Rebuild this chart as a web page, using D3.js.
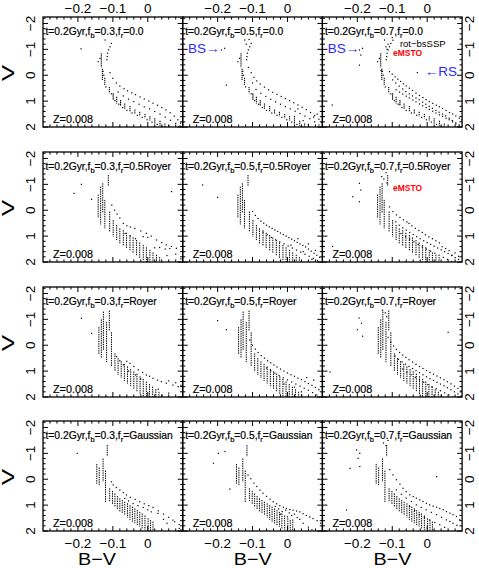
<!DOCTYPE html>
<html><head><meta charset="utf-8">
<script src="https://cdn.jsdelivr.net/npm/d3@7"></script>
<style>body{margin:0;background:#fff}svg{display:block}</style>
</head><body><svg id="c" width="479" height="568"></svg>
<script>
// ---------------- data ----------------
const colFb = ["0.3","0.5","0.7"];
const rowFr = ["0.0","0.5Royer","Royer","Gaussian"];
const metal = "Z=0.008";
const xTickValues = [-0.2,-0.1,0];
const xTickLabels = ["\u22120.2","\u22120.1","0"];
const yTickValues = [-2,-1,0,1,2];
const yTickLabels = ["\u22122","\u22121","0","1","2"];

// vertical stacks of stars [B-V, V_top, V_bottom]
const stripesR0 = [[-0.133,-0.85,-0.3],[-0.13,-0.25,0.2],[-0.123,0.1,0.38],[-0.11,0.45,0.70],[-0.099,0.70,0.96],[-0.089,0.83,1.09],[-0.078,0.96,1.19],[-0.066,1.09,1.32],[-0.051,1.19,1.41],[-0.037,1.32,1.5],[-0.023,1.41,1.58],[-0.008,1.5,1.66],[0.006,1.58,1.76],[0.02,1.66,1.86],[0.035,1.76,1.95],[0.049,1.86,2.0]];
const stripesR1 = [[-0.142,-0.6,0.3],[-0.135,-0.91,0.55],[-0.129,-1.04,0.1],[-0.123,-0.4,0.7],[-0.113,-1.36,-0.95],[-0.109,0.05,0.83],[-0.099,0.38,1.02],[-0.089,0.57,1.15],[-0.08,0.7,1.28],[-0.07,0.77,1.38],[-0.061,0.87,1.47],[-0.051,0.96,1.56],[-0.042,1.05,1.67],[-0.032,1.15,1.77],[-0.023,1.25,1.87],[-0.013,1.34,1.97],[-0.004,1.43,2.0],[0.006,1.53,2.0],[0.015,1.63,2.0],[0.025,1.72,2.0],[0.034,1.81,2.0]];
const stripesR2 = [[-0.14,-0.7,0.35],[-0.133,-1.0,0.5],[-0.127,-1.3,0.2],[-0.118,-0.9,0.65],[-0.11,-1.34,-0.55],[-0.104,-0.5,0.8],[-0.094,0.31,1.02],[-0.085,0.5,1.15],[-0.076,0.62,1.27],[-0.067,0.72,1.38],[-0.058,0.82,1.48],[-0.049,0.92,1.58],[-0.04,1.01,1.68],[-0.031,1.1,1.78],[-0.022,1.2,1.88],[-0.013,1.3,1.98],[-0.004,1.4,2.0],[0.005,1.5,2.0],[0.014,1.6,2.0],[0.023,1.7,2.0],[0.032,1.8,2.0],[0.041,1.9,2.0]];
const stripesR3 = [[-0.146,-0.59,0.17],[-0.139,-0.45,0.25],[-0.128,-0.8,0.1],[-0.121,-0.33,0.9],[-0.116,-1.32,-0.87],[-0.109,0.35,0.87],[-0.101,0.45,0.97],[-0.094,0.55,1.06],[-0.087,0.65,1.16],[-0.08,0.74,1.26],[-0.073,0.8,1.32],[-0.066,0.87,1.38],[-0.058,0.93,1.48],[-0.051,1.0,1.57],[-0.044,1.06,1.64],[-0.037,1.125,1.7],[-0.03,1.19,1.77],[-0.023,1.26,1.83],[-0.016,1.32,1.9],[-0.008,1.4,1.96],[0.001,1.51,2.0],[0.008,1.58,2.0],[0.015,1.64,2.0]];

// single stars shared by the f_r=0.0 row
const msR0 = [[-0.122,-1.36],[-0.104,-1.23],[-0.108,-1.1],[-0.112,-0.98],[-0.115,-0.85],[-0.116,-0.72],[-0.117,-0.6],[-0.137,-0.65],[-0.142,-0.52],[-0.128,-0.15],[-0.126,0.0],[-0.12,0.45],[-0.104,0.72],[-0.094,0.98],[-0.083,1.12],[-0.072,1.25],[-0.06,1.36],[-0.045,1.46],[-0.03,1.55],[-0.016,1.63],[-0.002,1.72],[0.012,1.81],[0.027,1.9],[0.041,1.98]];

// binaries and other stars, one array per panel [B-V, V]
const p00 = [[-0.191,-1.02],[-0.108,-0.1],[-0.1,0.12],[-0.09,0.3],[-0.08,0.42],[-0.068,0.52],[-0.058,0.6],[-0.046,0.68],[-0.035,0.75],[-0.022,0.84],[-0.01,0.92],[0.003,1.0],[0.015,1.08],[0.028,1.16],[0.04,1.25],[0.052,1.34],[0.064,1.45],[0.076,1.58],[0.086,1.72],[0.094,1.85],[-0.085,0.65],[-0.07,0.8],[-0.055,0.92],[-0.04,1.02],[-0.025,1.12],[-0.01,1.22],[0.005,1.3],[0.02,1.4],[0.035,1.5],[0.05,1.62],[0.065,1.74],[0.08,1.86],[0.092,1.96],[0.06,1.95],[0.088,2.0]];
const p01 = [[-0.112,-0.3],[-0.104,-0.1],[-0.096,0.08],[-0.088,0.22],[-0.078,0.34],[-0.066,0.46],[-0.054,0.56],[-0.042,0.66],[-0.03,0.74],[-0.018,0.82],[-0.006,0.9],[0.006,0.98],[0.018,1.06],[0.03,1.15],[0.042,1.24],[0.054,1.33],[0.066,1.44],[0.078,1.56],[0.09,1.7],[0.098,1.82],[-0.09,0.55],[-0.076,0.7],[-0.062,0.82],[-0.048,0.93],[-0.034,1.03],[-0.02,1.12],[-0.006,1.21],[0.008,1.3],[0.022,1.39],[0.036,1.48],[0.05,1.58],[0.064,1.68],[0.078,1.8],[0.09,1.92],[-0.189,-0.975],[-0.18,-1.04],[-0.175,0.38],[-0.1,0.3],[0.02,1.6],[0.045,1.75],[0.06,1.9],[0.075,1.62],[0.085,1.5],[0.03,1.3],[-0.118,-1.2],[-0.11,-1.38]];
const p02 = [[-0.108,-0.14],[-0.1,-0.04],[-0.092,0.06],[-0.084,0.15],[-0.076,0.24],[-0.068,0.33],[-0.06,0.41],[-0.051,0.5],[-0.042,0.59],[-0.032,0.69],[-0.022,0.78],[-0.012,0.86],[-0.003,0.94],[0.006,1.02],[0.016,1.09],[0.026,1.16],[0.035,1.22],[0.044,1.28],[0.054,1.36],[0.064,1.44],[0.073,1.5],[0.082,1.57],[0.092,1.66],[0.099,1.72],
[-0.099,0.18],[-0.09,0.3],[-0.08,0.42],[-0.07,0.53],[-0.061,0.63],[-0.051,0.72],[-0.042,0.8],[-0.032,0.88],[-0.023,0.95],[-0.013,1.04],[-0.004,1.12],[0.006,1.2],[0.015,1.28],[0.025,1.36],[0.034,1.43],[0.044,1.5],[0.053,1.57],[0.063,1.66],[0.072,1.75],[0.082,1.84],[0.091,1.92],[0.099,2.0],
[-0.089,0.56],[-0.079,0.65],[-0.07,0.73],[-0.06,0.81],[-0.051,0.88],[-0.041,0.96],[-0.032,1.03],[-0.022,1.11],[-0.013,1.18],[-0.003,1.25],[0.006,1.32],[0.016,1.39],[0.025,1.46],[0.035,1.53],[0.044,1.59],[0.054,1.66],[0.063,1.72],[0.073,1.8],[0.082,1.88],[0.092,1.96],
[-0.194,-0.975],[-0.185,-1.04],[-0.19,-0.78],[-0.194,-0.39],[-0.132,-0.18],[-0.028,-0.1],[-0.272,1.15],[-0.118,-1.1],[-0.115,-1.0],[-0.112,-1.2],[-0.1,-1.45],[-0.098,-1.35]];
const p10 = [[-0.211,-0.65],[-0.19,-1.0],[-0.161,-0.42],[0.068,-0.72],[-0.103,-0.2],[-0.095,0.0],[-0.088,0.15],[-0.08,0.3],[-0.07,0.51],[-0.06,0.6],[-0.05,0.65],[-0.037,0.70],[-0.02,0.8],[-0.004,0.89],[0.01,1.0],[-0.013,1.02],[0.0,1.05],[0.025,1.15],[0.04,1.25],[0.053,1.34],[0.068,1.4],[0.082,1.47],[0.034,1.44],[0.05,1.5],[0.063,1.48],[0.055,1.75],[0.08,1.7],[0.095,1.88],[-0.065,0.9],[-0.05,1.0],[-0.035,1.1],[0.02,1.45],[0.1,1.5]];
const p11 = [[-0.243,-0.975],[-0.2,-0.5],[-0.1,0.05],[-0.092,0.2],[-0.084,0.32],[-0.076,0.42],[-0.068,0.5],[-0.06,0.58],[-0.052,0.64],[-0.044,0.7],[-0.036,0.76],[-0.028,0.82],[-0.02,0.88],[-0.012,0.94],[-0.004,1.0],[0.004,1.06],[0.012,1.12],[0.02,1.18],[0.028,1.24],[0.036,1.3],[0.044,1.36],[0.052,1.42],[0.06,1.5],[0.068,1.58],[0.076,1.66],[0.084,1.74],[0.092,1.82],
[-0.07,0.85],[-0.058,0.95],[-0.046,1.05],[-0.034,1.14],[-0.022,1.22],[-0.01,1.3],[0.002,1.38],[0.014,1.46],[0.026,1.54],[0.038,1.62],[0.05,1.7],[0.062,1.78],[0.074,1.86],[0.086,1.94],[0.03,1.1],[0.06,1.3],[0.08,1.55],[0.045,1.6],[0.01,1.35],[0.07,1.9]];
const p12 = [[-0.194,-1.04],[-0.19,-0.78],[-0.213,-0.52],[-0.194,-0.33],[-0.271,1.4],[-0.108,-0.13],[-0.098,0.05],[-0.088,0.18],[-0.078,0.28],[-0.068,0.37],[-0.058,0.45],[-0.052,0.51],[-0.044,0.6],[-0.034,0.7],[-0.024,0.78],[-0.014,0.86],[-0.005,0.95],[0.005,1.03],[0.015,1.1],[0.025,1.18],[0.035,1.26],[0.043,1.41],[0.053,1.48],[0.063,1.56],[0.071,1.74],[0.08,1.65],[0.09,1.78],
[-0.09,0.45],[-0.08,0.58],[-0.07,0.68],[-0.06,0.77],[-0.05,0.86],[-0.04,0.94],[-0.03,1.02],[-0.02,1.1],[-0.01,1.18],[0.0,1.25],[0.01,1.32],[0.02,1.39],[0.03,1.46],[0.04,1.53],[0.05,1.6],[0.06,1.67],[0.07,1.75],[0.08,1.83],[0.09,1.9],
[-0.075,0.9],[-0.062,1.02],[-0.05,1.12],[-0.038,1.22],[-0.026,1.32],[-0.014,1.42],[-0.002,1.5],[0.01,1.58],[0.022,1.66],[0.034,1.74],[0.046,1.82],[0.058,1.9],[0.07,1.98],[-0.13,-1.3],[-0.124,-1.2],[-0.118,-1.45],[-0.115,-1.05]];
const p20 = [[-0.19,-1.04],[-0.161,-0.46],[-0.089,0.44],[-0.08,0.6],[-0.07,0.76],[-0.06,0.62],[-0.051,0.70],[-0.04,0.82],[-0.027,0.95],[-0.015,1.05],[-0.004,1.15],[0.005,1.2],[0.015,1.28],[0.028,1.35],[0.039,1.41],[0.053,1.47],[0.06,1.38],[0.072,1.54],[0.08,1.45],[0.087,1.6],[0.095,1.55],[-0.055,1.0],[-0.035,1.15],[-0.02,1.3],[0.03,1.7],[0.06,1.85]];
const p21 = [[-0.2,-0.95],[-0.175,-0.6],[-0.108,-0.2],[-0.1,0.0],[-0.092,0.15],[-0.084,0.28],[-0.075,0.4],[-0.066,0.5],[-0.057,0.6],[-0.048,0.68],[-0.039,0.76],[-0.03,0.84],[-0.02,0.92],[-0.01,1.0],[0.0,1.07],[0.01,1.14],[0.02,1.2],[0.03,1.27],[0.04,1.33],[0.05,1.4],[0.06,1.48],[0.07,1.55],[0.08,1.63],[0.09,1.72],[-0.06,0.88],[-0.048,0.98],[-0.036,1.08],[-0.024,1.17],[-0.012,1.26],[0.0,1.34],[0.012,1.42],[0.024,1.5],[0.036,1.58],[0.048,1.66],[0.06,1.74],[0.072,1.83],[0.084,1.92],[0.02,1.62],[0.04,1.8],[-0.01,1.5],[0.055,1.25],[0.075,1.35]];
const p22 = [[-0.195,-1.05],[-0.188,-0.85],[-0.2,-0.6],[-0.185,-0.35],[-0.278,1.03],[-0.112,-0.3],[-0.104,-0.12],[-0.096,0.03],[-0.088,0.16],[-0.079,0.28],[-0.07,0.38],[-0.061,0.47],[-0.052,0.56],[-0.042,0.65],[-0.032,0.74],[-0.022,0.82],[-0.012,0.9],[-0.002,0.98],[0.008,1.05],[0.018,1.12],[0.028,1.19],[0.038,1.26],[0.048,1.33],[0.058,1.41],[0.068,1.49],[0.078,1.58],[0.088,1.67],[0.097,1.76],
[-0.092,0.42],[-0.082,0.54],[-0.072,0.64],[-0.062,0.73],[-0.052,0.82],[-0.042,0.9],[-0.032,0.98],[-0.022,1.06],[-0.012,1.14],[-0.002,1.22],[0.008,1.29],[0.018,1.36],[0.028,1.43],[0.038,1.5],[0.048,1.57],[0.058,1.64],[0.068,1.72],[0.078,1.8],[0.088,1.88],[0.097,1.96],
[-0.07,0.92],[-0.058,1.04],[-0.046,1.14],[-0.034,1.24],[-0.022,1.34],[-0.01,1.43],[0.002,1.52],[0.014,1.6],[0.026,1.68],[0.038,1.76],[0.05,1.84],[0.062,1.92],[0.074,2.0],[-0.128,-1.35],[-0.12,-1.25],[-0.116,-1.1],[0.06,-0.5]];
const p30 = [[-0.202,-1.0],[-0.104,0.1],[-0.099,0.22],[-0.09,0.32],[-0.08,0.42],[-0.07,0.52],[-0.061,0.61],[-0.05,0.7],[-0.036,0.78],[-0.023,0.87],[-0.01,0.95],[0.003,1.02],[0.015,1.09],[0.03,1.22],[0.045,1.35],[0.06,1.47],[0.072,1.58],[0.077,1.64],[0.09,1.75],[-0.066,0.74],[-0.055,0.84],[-0.042,0.94],[-0.028,1.02],[-0.013,1.09],[0.0,1.18],[0.01,1.26],[0.029,1.32],[0.045,1.55],[0.055,1.7],[0.09,1.9],[0.095,1.95]];
const p31 = [[-0.198,-1.0],[-0.179,-1.07],[-0.212,-0.62],[-0.165,0.38],[-0.113,-0.16],[-0.105,-0.02],[-0.096,0.15],[-0.088,0.28],[-0.079,0.42],[-0.07,0.54],[-0.06,0.66],[-0.05,0.77],[-0.041,0.87],[-0.031,0.95],[-0.022,1.02],[-0.012,1.08],[-0.003,1.13],[0.007,1.17],[0.016,1.2],[0.026,1.23],[0.035,1.26],[0.045,1.33],[0.054,1.4],[0.064,1.46],[0.073,1.52],[0.085,1.6],[0.095,1.7],
[-0.035,1.05],[-0.025,1.15],[-0.015,1.25],[-0.005,1.2],[0.005,1.3],[0.012,1.4],[0.02,1.35],[0.028,1.48],[0.035,1.55],[0.0,1.45],[-0.02,1.35],[0.015,1.58],[0.045,1.7],[0.06,1.85],[0.07,1.95]];
const p32 = [[-0.202,-1.13],[-0.193,-1.0],[-0.198,-0.81],[-0.193,-0.49],[-0.221,-0.42],[-0.231,1.19],[0.027,-0.1],
[-0.107,-0.37],[-0.098,-0.17],[-0.088,0.02],[-0.078,0.19],[-0.069,0.35],[-0.06,0.48],[-0.05,0.6],[-0.04,0.67],[-0.031,0.73],[-0.021,0.8],[-0.012,0.86],[-0.002,0.93],[0.007,0.99],[0.017,1.04],[0.027,1.08],[0.036,1.13],[0.046,1.18],[0.055,1.25],[0.065,1.31],[0.074,1.37],[0.084,1.44],[0.093,1.57],
[-0.088,0.41],[-0.074,0.58],[-0.06,0.73],[-0.045,0.86],[-0.031,0.99],[-0.017,1.09],[-0.003,1.18],[0.012,1.28],[0.027,1.37],[0.041,1.47],[0.055,1.57],[0.065,1.63],[0.074,1.7],[0.085,1.78],
[-0.05,1.05],[-0.036,1.21],[-0.022,1.37],[-0.008,1.47],[0.007,1.57],[0.022,1.67],[0.036,1.76],[0.05,1.86],[-0.125,-1.4],[-0.118,-1.3],[-0.112,-1.5]];

// annotations: [row, col, text, B-V anchor, V anchor, colour, size]
const notes = [
  [0,1,"BS\u2192",-0.285,-0.84,"#2a2aff",13.5],
  [0,2,"BS\u2192",-0.285,-0.84,"#2a2aff",13.5],
  [0,2,"\u2190RS",-0.007,0.03,"#2a2aff",13.5],
  [0,2,"rot\u2212bsSSP",-0.078,-1.09,"#000",9.5],
  [0,2,"eMSTO",-0.098,-0.74,"#ff0000",8.5],
  [1,2,"eMSTO",-0.098,-0.74,"#ff0000",8.5]
];

// ---------------- layout ----------------
const colLeft = [43,182.7,322.4], pw = 139.7;
const rowTop = [17,152,287,421], ph = 110;
const x = d3.scaleLinear().domain([-0.3,0.1]).range([0,pw]);
const y = d3.scaleLinear().domain([-2.25,2]).range([0,ph]);
const xMinor = d3.range(-0.28,0.1,0.02).filter(v=>Math.abs(Math.round(v*10)-v*10)>1e-6);
const yMinor = d3.range(-2.2,2.0001,0.2).filter(v=>Math.abs(Math.round(v)-v)>1e-6);
const font = "'Liberation Sans', Arial, Helvetica, sans-serif";

const svg = d3.select("#c");
svg.append("rect").attr("width",479).attr("height",568).attr("fill","#fff");

const panelDots = [[p00,p01,p02],[p10,p11,p12],[p20,p21,p22],[p30,p31,p32]];
const rowStripes = [stripesR0,stripesR1,stripesR2,stripesR3];
const rowMs = [msR0,[],[],[]];

rowTop.forEach((T,r)=>{
  colLeft.forEach((L,c)=>{
    const g = svg.append("g").attr("transform",`translate(${L},${T})`);
    const cid = `clip${r}${c}`;
    g.append("clipPath").attr("id",cid).append("rect").attr("width",pw).attr("height",ph);
    const pg = g.append("g").attr("clip-path",`url(#${cid})`);
    pg.selectAll("line.s").data(rowStripes[r]).join("line")
      .attr("x1",d=>x(d[0])).attr("x2",d=>x(d[0]))
      .attr("y1",d=>y(d[1])).attr("y2",d=>y(d[2]))
      .attr("stroke","#000").attr("stroke-width",r===0?1.1:1)
      .attr("stroke-dasharray",r===0?"1.3,0.7":"1.4,0.9");
    pg.selectAll("rect.m").data(rowMs[r].concat(panelDots[r][c])).join("rect")
      .attr("x",d=>x(d[0])-0.6).attr("y",d=>y(d[1])-0.6)
      .attr("width",1.2).attr("height",1.2).attr("fill","#000");
    // frame
    g.append("rect").attr("width",pw).attr("height",ph)
      .attr("fill","none").attr("stroke","#000").attr("stroke-width",1.3);
    // ticks (inward, all four sides)
    const tk = g.append("g").attr("stroke","#000").attr("stroke-width",1);
    const addX = (vals,len)=>{
      vals.forEach(v=>{
        tk.append("line").attr("x1",x(v)).attr("x2",x(v)).attr("y1",ph).attr("y2",ph-len);
        tk.append("line").attr("x1",x(v)).attr("x2",x(v)).attr("y1",0).attr("y2",len);
      });
    };
    const addY = (vals,len)=>{
      vals.forEach(v=>{
        tk.append("line").attr("y1",y(v)).attr("y2",y(v)).attr("x1",0).attr("x2",len);
        tk.append("line").attr("y1",y(v)).attr("y2",y(v)).attr("x1",pw).attr("x2",pw-len);
      });
    };
    addX(xTickValues,5); addX(xMinor,2.6);
    addY(yTickValues,5); addY(yMinor,2.6);
    // panel label with subscripts
    const t = g.append("text").attr("x",2.5).attr("y",18).attr("font-family",font)
      .attr("font-size",10.3).attr("fill","#000").attr("stroke","#000").attr("stroke-width",0.2);
    t.append("tspan").text("t=0.2Gyr,f");
    t.append("tspan").attr("dy",2.5).attr("font-size",7.5).text("b");
    t.append("tspan").attr("dy",-2.5).text(`=${colFb[c]},f`);
    t.append("tspan").attr("dy",2.5).attr("font-size",7.5).text("r");
    t.append("tspan").attr("dy",-2.5).text(`=${rowFr[r]}`);
    g.append("text").attr("x",10).attr("y",106).attr("font-family",font)
      .attr("font-size",10.8).attr("fill","#000").attr("stroke","#000").attr("stroke-width",0.2).text(metal);
  });
});

// notes
notes.forEach(([r,c,txt,bv,v,col,fs])=>{
  svg.append("text").attr("x",colLeft[c]+x(bv)).attr("y",rowTop[r]+y(v))
    .attr("font-family",font).attr("font-size",fs).attr("fill",col)
    .attr("font-weight", col==="#ff0000"?"bold":"normal").text(txt);
});

// tick labels
colLeft.forEach((L,c)=>{
  xTickValues.forEach((v,i)=>{
    svg.append("text").attr("x",L+x(v)).attr("y",13).attr("text-anchor","middle")
      .attr("font-family",font).attr("font-size",13.5).text(xTickLabels[i]);
    svg.append("text").attr("x",L+x(v)).attr("y",548).attr("text-anchor","middle")
      .attr("font-family",font).attr("font-size",13.5).text(xTickLabels[i]);
  });
  svg.append("text").attr("x",L+[54,70,70][c]).attr("y",565).attr("text-anchor","middle")
    .attr("font-family",font).attr("font-size",17).attr("textLength",38)
    .attr("lengthAdjust","spacingAndGlyphs").text("B\u2212V");
});
rowTop.forEach(T=>{
  yTickValues.forEach((v,i)=>{
    [30,469].forEach(px=>{
      svg.append("text").attr("transform",`translate(${px},${T+y(v)}) rotate(-90)`)
        .attr("text-anchor","middle").attr("dy","0.36em")
        .attr("font-family",font).attr("font-size",13.5).text(yTickLabels[i]);
    });
  });
  svg.append("text").attr("transform",`translate(8,${T+56}) rotate(-90)`)
    .attr("text-anchor","middle").attr("dy","0.36em").attr("font-family",font)
    .attr("font-size",17).attr("textLength",16).attr("lengthAdjust","spacingAndGlyphs").text("V");
});
</script></body></html>
